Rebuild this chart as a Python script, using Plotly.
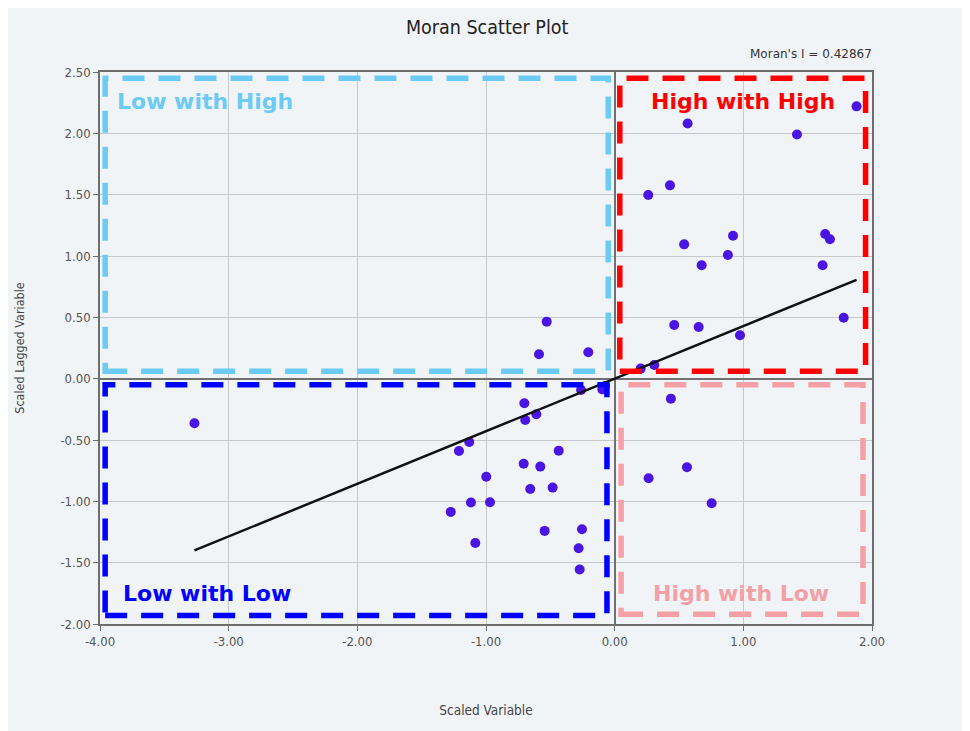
import plotly.graph_objects as go

# Scaled variable (x) and scaled lagged variable (y)
x_vals = [1.88, 0.567, 1.417, 0.43, 0.261, 0.92, 0.54, 0.88, 0.676, 1.636, 1.673, 1.616,
          1.78, 0.463, 0.653, 0.974, 0.202, 0.308,
          -0.528, -0.588, -0.205, -0.261, -0.096, -0.075, -0.702, -0.695, -0.609, -1.13,
          -1.21, -0.435, -0.707, -0.578, -0.998, -0.656, -0.482, -1.117, -0.969, -1.274,
          -0.544, -0.254, -1.083, -0.28, -0.272, -3.266,
          0.437, 0.562, 0.264, 0.754]
y_vals = [2.22, 2.08, 1.99, 1.576, 1.497, 1.165, 1.095, 1.008, 0.924, 1.179, 1.136, 0.924,
          0.497, 0.438, 0.421, 0.354, 0.082, 0.112,
          0.465, 0.199, 0.215, -0.092, -0.087, -0.06, -0.2, -0.337, -0.29, -0.516,
          -0.59, -0.587, -0.693, -0.717, -0.8, -0.9, -0.888, -1.01, -1.007, -1.086,
          -1.241, -1.227, -1.339, -1.382, -1.556, -0.364,
          -0.163, -0.722, -0.812, -1.016]
morans_i = 0.42867

x_ticks = [-4, -3, -2, -1, 0, 1, 2]
x_tick_labels = ["-4.00", "-3.00", "-2.00", "-1.00", "0.00", "1.00", "2.00"]
y_ticks = [-2.0, -1.5, -1.0, -0.5, 0.0, 0.5, 1.0, 1.5, 2.0, 2.5]
y_tick_labels = ["-2.00", "-1.50", "-1.00", "-0.50", "0.00", "0.50", "1.00", "1.50", "2.00", "2.50"]
x_range = [-4, 2]
y_range = [-2, 2.5]

quadrants = [
    # label, x0, x1, y0, y1, color, label x, label y, anchor
    ("Low with High", -3.96, -0.05, 0.06, 2.45, "#6CCBF2", -3.88, 2.26, "left"),
    ("High with High", 0.04, 1.95, 0.06, 2.45, "#FF0000", 1.0, 2.26, "center"),
    ("Low with Low", -3.96, -0.06, -1.93, -0.05, "#0000FF", -3.84, -1.755, "left"),
    ("High with Low", 0.05, 1.93, -1.92, -0.05, "#F4A0A6", 0.98, -1.755, "center"),
]

font_family = "DejaVu Sans Condensed, DejaVu Sans, Noto Sans, sans-serif"

fig = go.Figure()

fig.add_trace(go.Scatter(
    x=x_vals, y=y_vals, mode="markers",
    marker=dict(size=10, color="#4A14E2"),
    showlegend=False, hoverinfo="x+y",
))

xmin, xmax = min(x_vals), max(x_vals)
fig.add_trace(go.Scatter(
    x=[xmin, xmax], y=[morans_i * xmin, morans_i * xmax], mode="lines",
    line=dict(color="#111111", width=2.5), showlegend=False, hoverinfo="skip",
))

for label, x0, x1, y0, y1, color, lx, ly, anchor in quadrants:
    fig.add_shape(type="rect", x0=x0, x1=x1, y0=y0, y1=y1, xref="x", yref="y",
                  line=dict(color=color, width=5.5, dash="22px,14px"),
                  fillcolor="rgba(0,0,0,0)", layer="above")
    fig.add_annotation(x=lx, y=ly, xref="x", yref="y", text="<b>" + label + "</b>",
                       showarrow=False, xanchor=anchor, yanchor="middle",
                       font=dict(family="DejaVu Sans, Verdana, sans-serif", size=22, color=color))

fig.add_annotation(x=1, y=1, xref="paper", yref="paper", xanchor="right", yanchor="bottom",
                   yshift=9, xshift=2, text="Moran's I = " + str(morans_i), showarrow=False,
                   font=dict(family="DejaVu Sans, Noto Sans, sans-serif", size=12, color="#333333"))

axis_common = dict(
    showgrid=True, gridcolor="#C6C8CB", gridwidth=1,
    zeroline=True, zerolinecolor="#707070", zerolinewidth=2,
    showline=True, linecolor="#6E6E6E", linewidth=1.5, mirror=True,
    ticks="outside", ticklen=5, tickcolor="#6E6E6E",
    tickfont=dict(family=font_family, size=13, color="#555555"),
)

fig.update_layout(
    width=970, height=731,
    paper_bgcolor="#F1F4F7", plot_bgcolor="#F1F4F7",
    margin=dict(l=92, r=106, t=64, b=115),
    title=dict(text="Moran Scatter Plot", x=0.494, xanchor="center", y=0.974, yanchor="middle",
               font=dict(family=font_family, size=19.5, color="#222222")),
    xaxis=dict(range=x_range, tickvals=x_ticks, ticktext=x_tick_labels,
               title=dict(text="Scaled Variable", standoff=57,
                          font=dict(family=font_family, size=13.5, color="#444444")),
               **axis_common),
    yaxis=dict(range=y_range, tickvals=y_ticks, ticktext=y_tick_labels,
               title=dict(text="Scaled Lagged Variable", standoff=33,
                          font=dict(family=font_family, size=12.5, color="#444444")),
               **axis_common),
)

fig.write_html("out.html")
